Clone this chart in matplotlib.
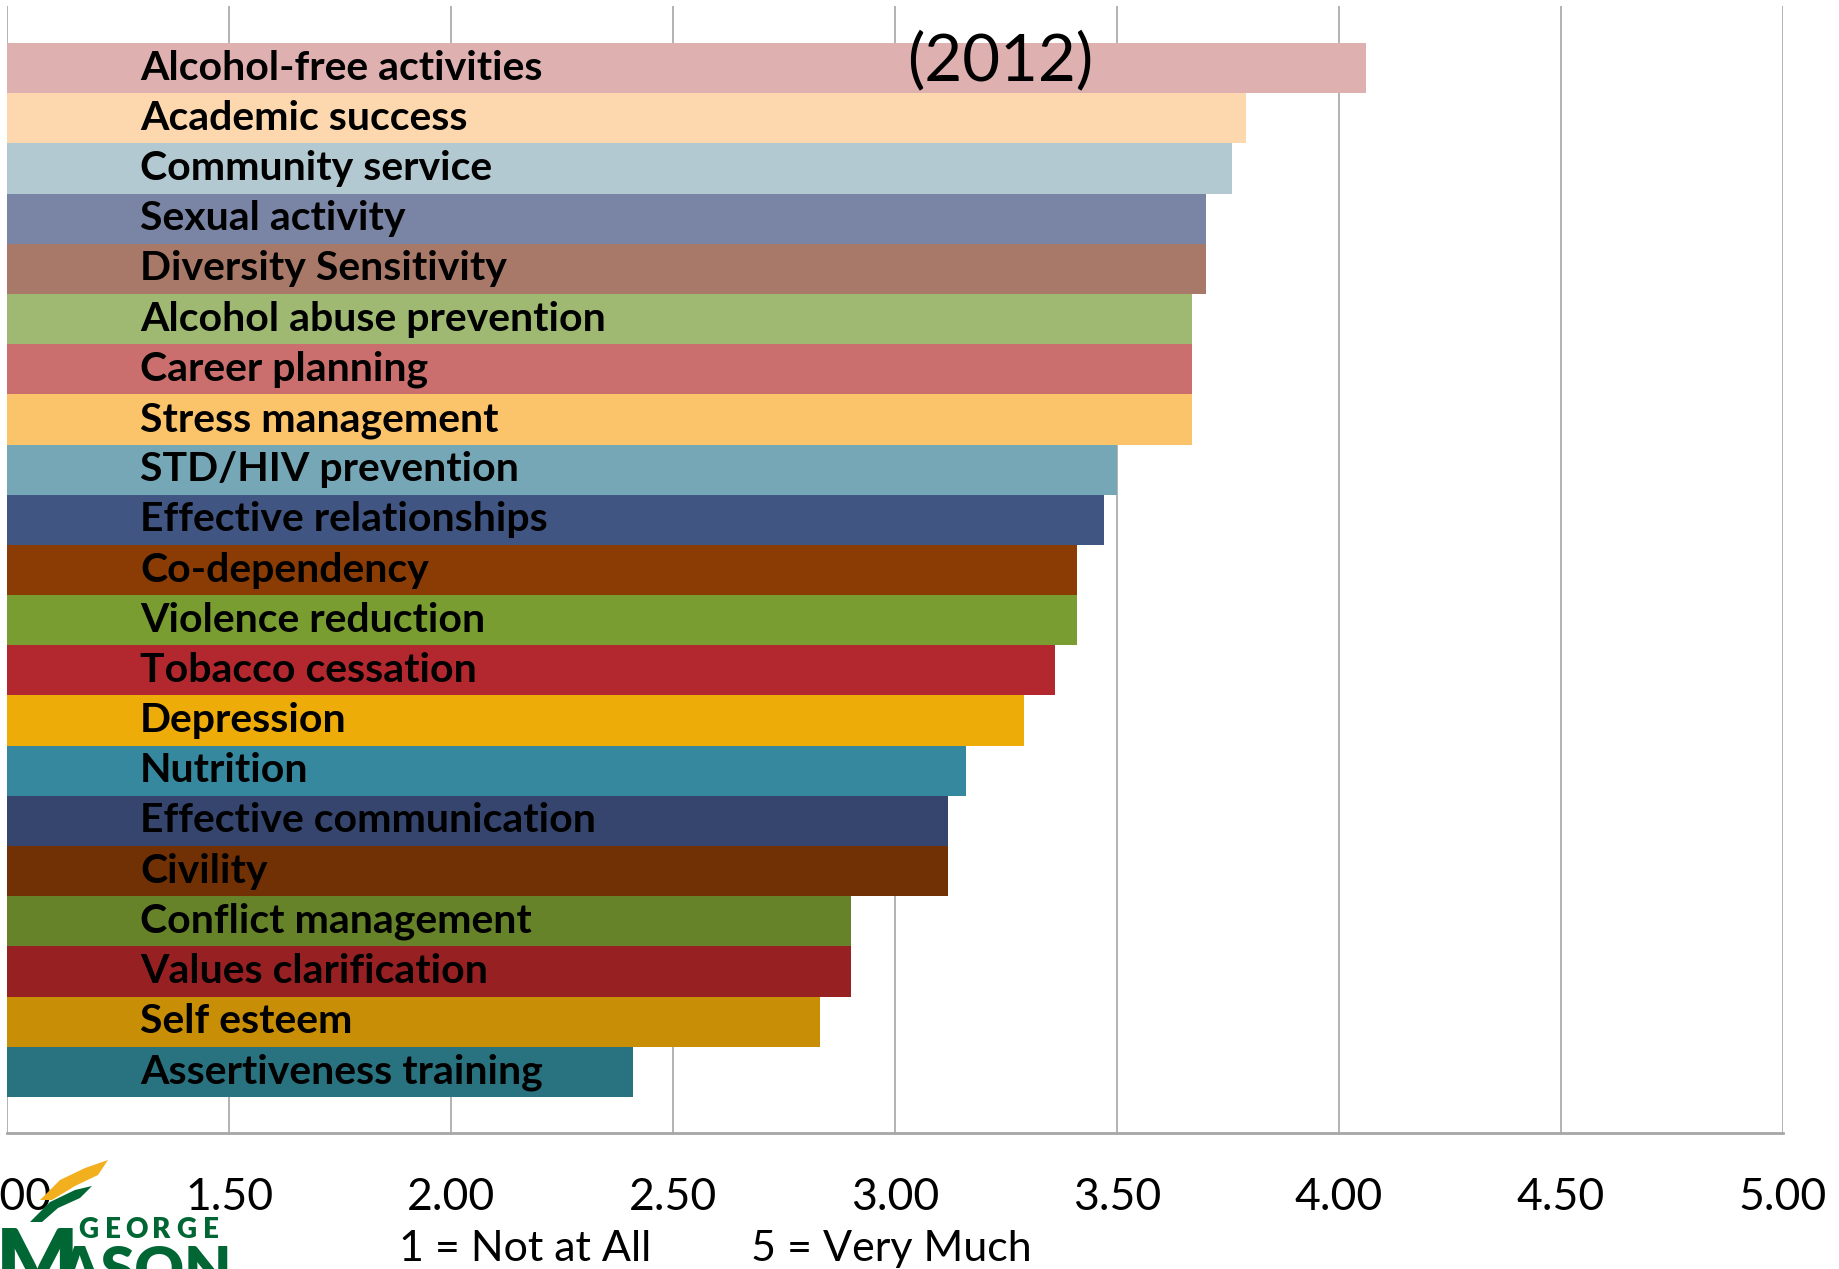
import matplotlib
matplotlib.use("Agg")
import matplotlib.pyplot as plt
from matplotlib.patches import Polygon

# topics, top to bottom, with mean rating (1 = Not at All, 5 = Very Much)
topics = [
    "Alcohol-free activities", "Academic success", "Community service",
    "Sexual activity", "Diversity Sensitivity", "Alcohol abuse prevention",
    "Career planning", "Stress management", "STD/HIV prevention",
    "Effective relationships", "Co-dependency", "Violence reduction",
    "Tobacco cessation", "Depression", "Nutrition",
    "Effective communication", "Civility", "Conflict management",
    "Values clarification", "Self esteem", "Assertiveness training",
]
ratings = [
    4.06, 3.79, 3.76, 3.70, 3.70, 3.67, 3.67, 3.67, 3.50, 3.47, 3.41,
    3.41, 3.36, 3.29, 3.16, 3.12, 3.12, 2.90, 2.90, 2.83, 2.41,
]
bar_colors = [
    "#DFB0B0", "#FDD8AE", "#B2C9D1", "#7A84A4", "#A87968", "#9FB972",
    "#CB6F6E", "#FCC46A", "#75A7B7", "#415583", "#8B3C05", "#7A9D32",
    "#B3282E", "#EDAC07", "#35889D", "#36456E", "#723104", "#668329",
    "#972023", "#C78E06", "#297280",
]
x_ticks = [1.0, 1.5, 2.0, 2.5, 3.0, 3.5, 4.0, 4.5, 5.0]

W, H = 1839, 1269
plt.rcParams["font.family"] = ["Lato", "DejaVu Sans"]

fig = plt.figure(figsize=(W / 100, H / 100), dpi=100)
fig.patch.set_facecolor("white")

def fx(px):
    return px / W

def fy(py):
    return 1 - py / H

ax = fig.add_axes([fx(7), fy(1133), fx(1783) - fx(7), (1133 - 6) / H])

ypos = list(range(len(topics)))
ax.barh(ypos, [r - 1 for r in ratings], left=1, height=1.0,
        color=bar_colors, zorder=2)
for i, name in enumerate(topics):
    ax.text(1.30, i + 0.23, name, ha="left", va="baseline",
            fontsize=29.5, fontweight="bold", color="black", zorder=3)

ax.set_xlim(1, 5)
ax.set_ylim(20.5 + 0.72, -0.5 - 0.74)
ax.set_xticks(x_ticks)
ax.set_xticklabels([f"{t:.2f}" for t in x_ticks])
ax.set_yticks([])
ax.tick_params(axis="x", length=0, pad=32, labelsize=32)
ax.grid(axis="x", color="#A6A6A6", linewidth=1.2, zorder=0)
ax.set_axisbelow(True)
for side in ["top", "right", "left"]:
    ax.spines[side].set_visible(False)
ax.spines["bottom"].set_color("#A6A6A6")
ax.spines["bottom"].set_linewidth(2)

fig.text(fx(1000), fy(80), "(2012)", ha="center", va="baseline", fontsize=47)
fig.text(fx(399), fy(1261), "1 = Not at All", ha="left", va="baseline", fontsize=31)
fig.text(fx(751), fy(1261), "5 = Very Much", ha="left", va="baseline", fontsize=31)

# George Mason logo, roughly
green = "#006633"
gold = "#F2B01E"
leaf_gold = [(40, 1200), (60, 1180), (85, 1168), (108, 1160), (98, 1175), (75, 1186), (52, 1200)]
leaf_green = [(30, 1222), (50, 1202), (75, 1190), (92, 1186), (80, 1198), (58, 1208), (42, 1222)]
for pts, c in [(leaf_gold, gold), (leaf_green, green)]:
    fig.patches.append(Polygon([(fx(a), fy(b)) for a, b in pts], closed=True,
                               transform=fig.transFigure, facecolor=c,
                               edgecolor="none", zorder=5))
for k, ch in enumerate("GEORGE"):
    fig.text(fx(88 + k * 24.5), fy(1238), ch, ha="center", va="baseline",
             fontsize=20, fontweight="heavy", color=green, zorder=6)
fig.text(fx(-4), fy(1290), "M", ha="left", va="baseline", fontsize=62,
         fontweight="heavy", color=green, zorder=6)
fig.text(fx(58), fy(1290), "ASON", ha="left", va="baseline", fontsize=44,
         fontweight="heavy", color=green, zorder=6)

fig.savefig("out.png", dpi=100, facecolor="white")
